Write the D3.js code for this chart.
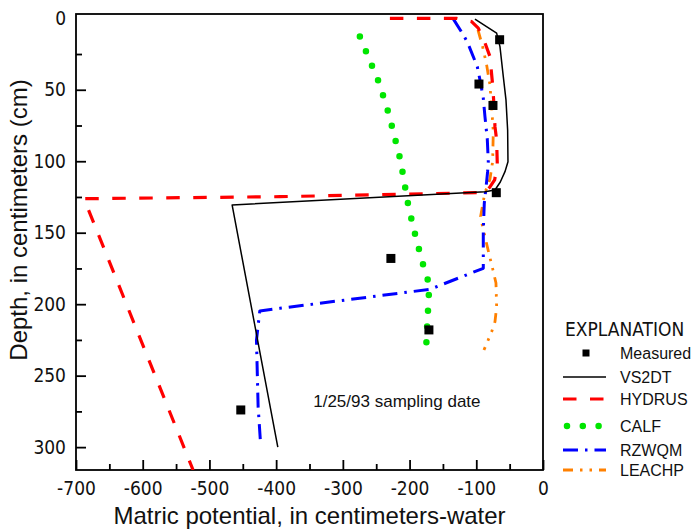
<!DOCTYPE html>
<html>
<head>
<meta charset="utf-8">
<script src="https://cdn.jsdelivr.net/npm/d3@7"></script>
<style>
  html, body { margin: 0; padding: 0; background: #fff; }
  svg { display: block; }
  .narrow { font-family: "Liberation Sans Narrow", "Arial Narrow", "DejaVu Sans Condensed", sans-serif; }
  .reg { font-family: "Liberation Sans", Arial, sans-serif; }
</style>
</head>
<body>
<svg id="chart" width="695" height="529"></svg>
<script>
// ---------------- DATA ----------------
const xTicksMajor = [-700, -600, -500, -400, -300, -200, -100, 0];
const xTicksMinor = [-650, -550, -450, -350, -250, -150, -50];
const yTicksMajor = [0, 50, 100, 150, 200, 250, 300];
const yTicksMinor = [25, 75, 125, 175, 225, 275];

const measuredPotential = [-65, -96, -75, -70, -228, -171, -453];
const measuredDepth     = [15, 46, 61, 122, 168, 218, 274];

const vs2dtPotential = [-102, -69.5, -64.5, -59.5, -55.5, -53, -52.5, -57, -64, -72, -87, -466, -397.5];
const vs2dtDepth     = [0.6, 10.4, 19.8, 40.8, 57.1, 78.1, 100.3, 107.3, 114.5, 120.1, 121.3, 130.6, 300];

const hydrusPotential = [-229.5, -129.5, -107, -97, -87, -79.5, -75.5, -73.5, -72, -69.5, -68.5, -72.5, -79.5, -88.5, -394.5, -688, -524.5];
const hydrusDepth     = [0, 0, 2.3, 6.9, 17.2, 26.8, 46.6, 60.6, 75.8, 85.1, 102.6, 113.1, 118, 121.9, 124.8, 126.2, 316];

const calfPotential = [-274.5, -245.5, -231, -213.5, -201.5, -190.5, -178, -170.5, -171.5, -174, -175];
const calfDepth     = [12.8, 45.4, 67.1, 99.6, 132, 153.5, 175.4, 186.1, 197.1, 218.3, 229.3];

const rzwqmPotential = [-134.5, -119.5, -113, -98.5, -93.5, -89.5, -87, -83.5, -82, -83, -84.5, -88, -89.5, -89.5, -169.5, -394.5, -424.5, -429.5, -427, -423.5];
const rzwqmDepth     = [0.4, 11.6, 17, 33.8, 45.4, 55.9, 68.8, 84.6, 100.3, 107.3, 114.3, 129.4, 148.1, 174.9, 189.6, 202.9, 204.8, 225.1, 271.8, 296.3];

const leachpPotential = [-97.5, -90.5, -84.5, -79.5, -75.5, -74.5, -75.5, -79.5, -84, -87, -93.5, -90.5, -87, -80.5, -75, -70.5, -69.5, -72, -77, -88.5];
const leachpDepth     = [8.1, 19.8, 32.6, 46.6, 72.3, 79.3, 100.3, 112.4, 118.7, 121.5, 138.7, 145.8, 152.8, 165.6, 176.1, 185.2, 201.8, 212.3, 219.3, 232.1];

const legendLabels = ["Measured", "VS2DT", "HYDRUS", "CALF", "RZWQM", "LEACHP"];

// ---------------- STYLES ----------------
const styles = {
  VS2DT:  { color: "#000000", width: 1.5, dash: null, cap: "butt" },
  HYDRUS: { color: "#ff0000", width: 3.2, dash: "13.5,13.5", cap: "butt" },
  CALF:   { color: "#00e600", width: 6.5, dash: "0,15.8", cap: "round" },
  RZWQM:  { color: "#0000ff", width: 3, dash: "15,7,2.5,7", cap: "butt" },
  LEACHP: { color: "#ff8000", width: 2.8, dash: "10,7,2.5,7,2.5,7", cap: "butt" }
};

// ---------------- LAYOUT ----------------
const L = 76, R = 543, T = 14, B = 470;
const svg = d3.select("#chart");
const x = d3.scaleLinear().domain([-700, 0]).range([L, R]);
const y = d3.scaleLinear().domain([-3, 316]).range([T, B]);

svg.append("defs").append("clipPath").attr("id", "plotclip")
  .append("rect").attr("x", L).attr("y", T).attr("width", R - L).attr("height", B - T);

// Axes (ticks inside)
const xMaj = d3.axisBottom(x).tickValues(xTicksMajor).tickSize(-10).tickPadding(12).tickFormat(d => String(d));
const xMin = d3.axisBottom(x).tickValues(xTicksMinor).tickSize(-6).tickFormat("");
const yMaj = d3.axisLeft(y).tickValues(yTicksMajor).tickSize(-10).tickPadding(10).tickFormat(d => String(d));
const yMin = d3.axisLeft(y).tickValues(yTicksMinor).tickSize(-6).tickFormat("");

function styleAxis(g) {
  g.select(".domain").remove();
  g.selectAll(".tick line").attr("stroke", "#000").attr("stroke-width", 1.8);
  g.selectAll(".tick text").attr("class", "narrow").attr("font-size", 19).attr("fill", "#111");
}
svg.append("g").attr("transform", `translate(0,${B})`).call(xMaj).call(styleAxis);
svg.append("g").attr("transform", `translate(0,${B})`).call(xMin).call(styleAxis);
const yg = svg.append("g").attr("transform", `translate(${L},0)`).call(yMaj).call(styleAxis);
svg.append("g").attr("transform", `translate(${L},0)`).call(yMin).call(styleAxis);
// the reference draws no tick mark at depth 0 (label only)
yg.selectAll(".tick").filter(d => d === 0).select("line").remove();

// frame
svg.append("rect").attr("x", L).attr("y", T).attr("width", R - L).attr("height", B - T)
  .attr("fill", "none").attr("stroke", "#000").attr("stroke-width", 1.8);

// Series lines
const line = d3.line().x(d => x(d[0])).y(d => y(d[1]));
const plot = svg.append("g").attr("clip-path", "url(#plotclip)");
const series = [
  { name: "CALF", p: calfPotential, d: calfDepth },
  { name: "LEACHP", p: leachpPotential, d: leachpDepth },
  { name: "RZWQM", p: rzwqmPotential, d: rzwqmDepth },
  { name: "HYDRUS", p: hydrusPotential, d: hydrusDepth },
  { name: "VS2DT", p: vs2dtPotential, d: vs2dtDepth }
];
series.forEach(s => {
  const st = styles[s.name];
  plot.append("path")
    .datum(s.p.map((v, i) => [v, s.d[i]]))
    .attr("d", line)
    .attr("fill", "none")
    .attr("stroke", st.color)
    .attr("stroke-width", st.width)
    .attr("stroke-linecap", st.cap)
    .attr("stroke-linejoin", "round")
    .attr("stroke-dasharray", st.dash);
});

// Measured squares
const sq = 9;
plot.selectAll("rect.meas").data(measuredPotential.map((v, i) => [v, measuredDepth[i]]))
  .enter().append("rect").attr("class", "meas")
  .attr("x", d => x(d[0]) - sq / 2).attr("y", d => y(d[1]) - sq / 2)
  .attr("width", sq).attr("height", sq).attr("fill", "#000");

// Annotation
svg.append("text").attr("class", "reg").attr("x", x(-219)).attr("y", y(272))
  .attr("font-size", 17).attr("fill", "#111").attr("text-anchor", "middle")
  .text("1/25/93 sampling date");

// Axis titles
svg.append("text").attr("class", "reg").attr("x", (L + R) / 2).attr("y", 524)
  .attr("font-size", 24).attr("fill", "#111").attr("text-anchor", "middle")
  .text("Matric potential, in centimeters-water");
svg.append("text").attr("class", "reg")
  .attr("transform", "translate(27,220) rotate(-90)")
  .attr("font-size", 24).attr("fill", "#111").attr("text-anchor", "middle")
  .text("Depth, in centimeters (cm)");

// Legend
const lg = svg.append("g");
lg.append("text").attr("class", "narrow").attr("x", 565).attr("y", 336)
  .attr("font-size", 19).attr("fill", "#111").text("EXPLANATION");
const rowY = [353, 377, 399, 426, 450, 470];
const sx0 = 563, sx1 = 606, tx = 620;
legendLabels.forEach((lab, i) => {
  const cy = rowY[i];
  if (lab === "Measured") {
    lg.append("rect").attr("x", 586 - 3.5).attr("y", cy - 3.5).attr("width", 7).attr("height", 7).attr("fill", "#000");
  } else {
    const st = styles[lab];
    lg.append("line").attr("x1", lab === "CALF" ? 567 : sx0).attr("x2", sx1).attr("y1", cy).attr("y2", cy)
      .attr("stroke", st.color).attr("stroke-width", st.width)
      .attr("stroke-linecap", st.cap).attr("stroke-dasharray", st.dash);
  }
  lg.append("text").attr("class", "reg").attr("x", tx).attr("y", cy + 6)
    .attr("font-size", 16).attr("fill", "#111").text(lab);
});
</script>
</body>
</html>
